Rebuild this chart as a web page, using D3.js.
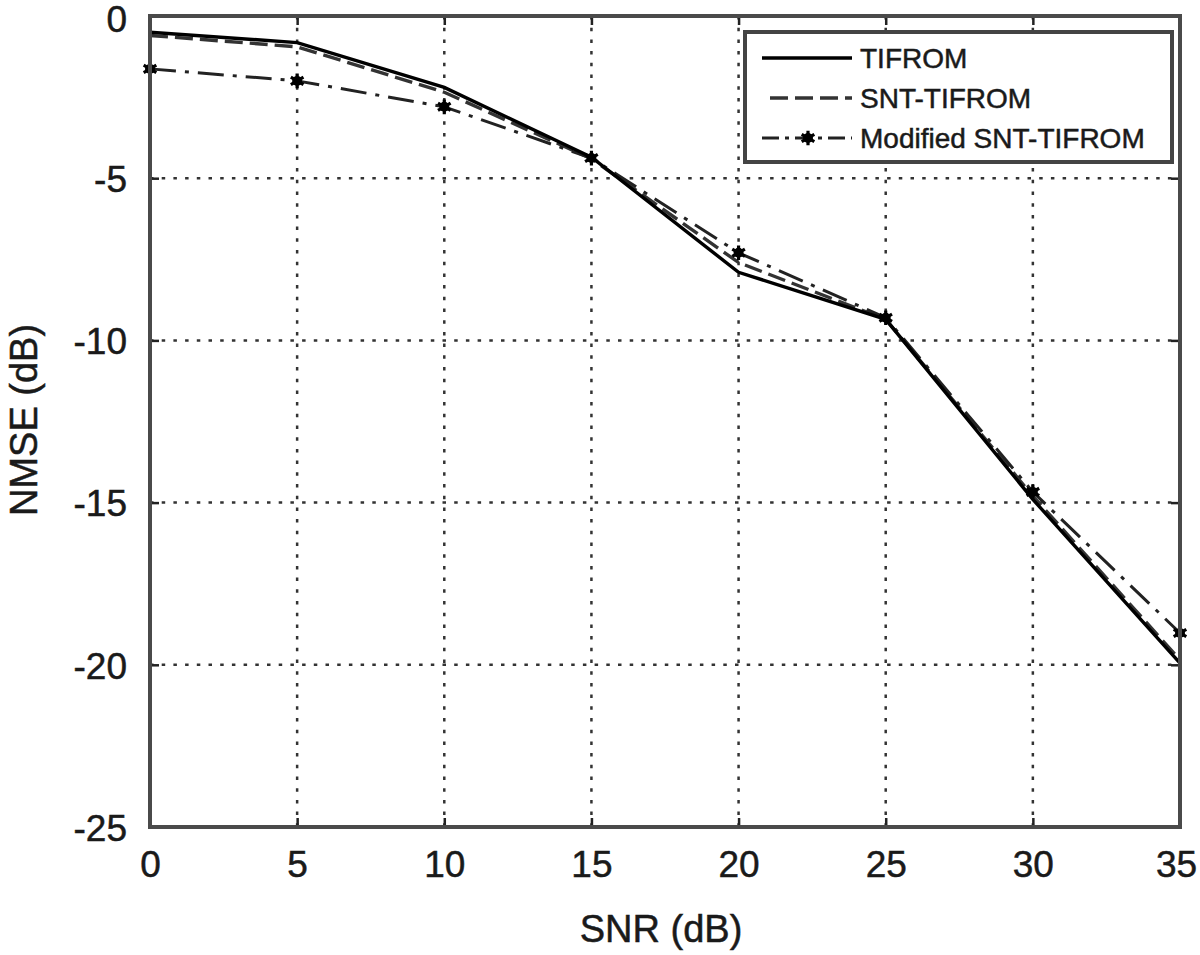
<!DOCTYPE html>
<html>
<head>
<meta charset="utf-8">
<script src="https://cdn.jsdelivr.net/npm/d3@7"></script>
<style>
  html, body { margin: 0; padding: 0; background: #fff; }
  svg text { font-family: "Liberation Sans", Arial, sans-serif; fill: #1a1a1a; stroke: #1a1a1a; stroke-width: 0.5; }
</style>
</head>
<body>
<svg id="chart" width="1200" height="955"></svg>
<script>
// ---- data ----
const snr = [0, 5, 10, 15, 20, 25, 30, 35];
const tifrom = [-0.5, -0.82, -2.2, -4.35, -7.9, -9.35, -14.9, -19.95];
const sntTifrom = [-0.6, -0.95, -2.35, -4.4, -7.6, -9.35, -14.8, -19.85];
const modSntTifrom = [-1.63, -2.0, -2.8, -4.38, -7.3, -9.3, -14.67, -19.02];
const xTicks = [0, 5, 10, 15, 20, 25, 30, 35];
const yTicks = [0, -5, -10, -15, -20, -25];
const seriesNames = ["TIFROM", "SNT-TIFROM", "Modified SNT-TIFROM"];
const xLabel = "SNR (dB)";
const yLabel = "NMSE (dB)";

// ---- layout ----
const svg = d3.select("#chart");
const L = 150, R = 1180, T = 16, B = 827;
const x = d3.scaleLinear().domain([0, 35]).range([L, R]);
const y = d3.scaleLinear().domain([-25, 0]).range([B, T]);

svg.append("rect").attr("width", 1200).attr("height", 955).attr("fill", "#fff");

// grid (dotted)
const grid = svg.append("g").attr("stroke", "#333").attr("stroke-width", 2.5)
  .attr("stroke-dasharray", "3.5,8.2");
grid.selectAll("line.vx").data(xTicks.filter(d => d > 0 && d < 35)).enter()
  .append("line").attr("x1", d => x(d)).attr("x2", d => x(d)).attr("y1", T).attr("y2", B);
grid.selectAll("line.hy").data(yTicks.filter(d => d < 0 && d > -25)).enter()
  .append("line").attr("y1", d => y(d)).attr("y2", d => y(d)).attr("x1", L).attr("x2", R);

// axes
const fontSize = 37;
const gB = svg.append("g").attr("transform", `translate(0,${B})`)
  .call(d3.axisBottom(x).tickValues(xTicks).tickSize(-9).tickPadding(24).tickFormat(d3.format("d")));
const gL = svg.append("g").attr("transform", `translate(${L},0)`)
  .call(d3.axisLeft(y).tickValues(yTicks).tickSize(-9).tickPadding(23).tickFormat(d3.format("d")));
const gT = svg.append("g").attr("transform", `translate(0,${T})`)
  .call(d3.axisTop(x).tickValues(xTicks).tickSize(-9).tickFormat(""));
const gR = svg.append("g").attr("transform", `translate(${R},0)`)
  .call(d3.axisRight(y).tickValues(yTicks).tickSize(-9).tickFormat(""));
[gB, gL, gT, gR].forEach(g => {
  g.select(".domain").remove();
  g.selectAll(".tick line").attr("stroke", "#222").attr("stroke-width", 2.5);
  g.selectAll("text").attr("font-size", fontSize).attr("fill", "#1a1a1a")
    .attr("font-family", "'Liberation Sans', Arial, sans-serif");
});
gB.selectAll("text").attr("dx", d => d === 35 ? -4 : 0);
gL.selectAll("text").attr("dy", "0.36em").text(d => d === 0 ? "0" : "-" + Math.abs(d))
  .attr("y", d => d === 0 ? 2 : 0);

// line generator
const line = d3.line().x(d => x(d[0])).y(d => y(d[1]));
const zip = vals => snr.map((s, i) => [s, vals[i]]);

const plot = svg.append("g");
plot.append("path").datum(zip(sntTifrom)).attr("d", line)
  .attr("fill", "none").attr("stroke", "#333").attr("stroke-width", 3.4)
  .attr("stroke-dasharray", "18,7");
plot.append("path").datum(zip(modSntTifrom)).attr("d", line)
  .attr("fill", "none").attr("stroke", "#222").attr("stroke-width", 3)
  .attr("stroke-dasharray", "26,9,4,9");
plot.append("path").datum(zip(tifrom)).attr("d", line)
  .attr("fill", "none").attr("stroke", "#000").attr("stroke-width", 3.4);

const star = d3.symbol().type(d3.symbolAsterisk).size(150);
function marker(g, cx, cy) {
  g.append("path").attr("d", star()).attr("transform", `translate(${cx},${cy})`)
    .attr("fill", "none").attr("stroke", "#000").attr("stroke-width", 3.2);
  g.append("circle").attr("cx", cx).attr("cy", cy).attr("r", 5).attr("fill", "#000");
}
zip(modSntTifrom).forEach(d => marker(plot, x(d[0]), y(d[1])));

// frame
svg.append("rect").attr("x", L).attr("y", T).attr("width", R - L).attr("height", B - T)
  .attr("fill", "none").attr("stroke", "#4a4a4a").attr("stroke-width", 4);

// axis labels
svg.append("text").attr("x", 661).attr("y", 942).attr("text-anchor", "middle")
  .attr("font-size", 38).text(xLabel);
svg.append("text").attr("transform", "translate(37,420) rotate(-90)").attr("text-anchor", "middle")
  .attr("font-size", 38).text(yLabel);

// legend
const lg = svg.append("g");
lg.append("rect").attr("x", 745).attr("y", 32).attr("width", 427).attr("height", 130)
  .attr("fill", "#fff").attr("stroke", "#444").attr("stroke-width", 4);
const rows = [
  { name: seriesNames[0], y: 58, dash: null, w: 3.4, c: "#000" },
  { name: seriesNames[1], y: 98, dash: "18,7", w: 3.4, c: "#333" },
  { name: seriesNames[2], y: 138, dash: "17,6,4,6", w: 3, c: "#222" }
];
rows.forEach((r, i) => {
  const ln = lg.append("line").attr("x1", i === 1 ? 770 : 762).attr("x2", 852)
    .attr("y1", r.y).attr("y2", r.y).attr("stroke", r.c).attr("stroke-width", r.w);
  if (r.dash) ln.attr("stroke-dasharray", r.dash);
  if (i === 2) marker(lg, 808, r.y);
  lg.append("text").attr("x", 860).attr("y", r.y + 10).attr("font-size", 28)
    .text(r.name);
});
</script>
</body>
</html>
